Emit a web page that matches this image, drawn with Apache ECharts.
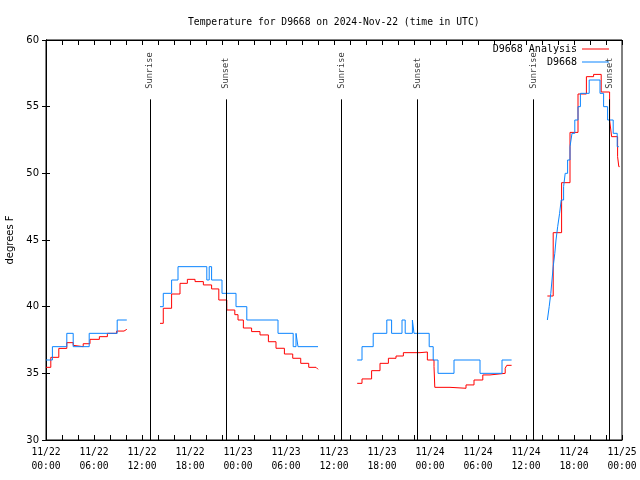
<!DOCTYPE html>
<html><head><meta charset="utf-8">
<script src="https://cdn.jsdelivr.net/npm/echarts@6/dist/echarts.min.js"></script>
<style>html,body{margin:0;padding:0;background:#fff}#c{width:640px;height:480px}</style>
</head><body><div id="c"></div>
<script>
const titleText = 'Temperature for D9668 on 2024-Nov-22 (time in UTC)';
const seriesNames = ['D9668 Analysis', 'D9668'];
const startDay = 22;           // 11/22 00:00 = hour 0
const yTickValues = [30, 35, 40, 45, 50, 55, 60];
const sunriseHours = [12.97, 36.95, 60.95];
const sunsetHours = [22.47, 46.42, 70.42];

// Analysis (red), [hour since 11/22 00:00 UTC, degF]
const analysisSeg1 = [[0,35.45],[0.6,36.2],[1.6,36.87],[2.6,37.3],[3.4,37.1],[3.6,37.0],[4.65,37.22],[5.5,37.55],[6.67,37.75],[7.67,38.0],[8.83,38.17],[9.75,38.3],[10.1,38.3]];
const analysisSeg2 = [[14.25,38.75],[14.66,39.88],[15.7,40.95],[16.75,41.75],[17.67,42.05],[18.63,41.88],[19.67,41.63],[20.7,41.33],[21.6,40.5],[22.6,39.75],[23.6,39.4],[24.0,39.0],[24.67,38.4],[25.7,38.13],[26.75,37.88],[27.8,37.37],[28.75,36.88],[29.8,36.45],[30.84,36.13],[31.84,35.75],[32.84,35.45],[33.75,35.3],[34.0,35.3]];
const analysisSeg3 = [[38.9,34.25],[39.5,34.58],[40.7,35.2],[41.75,35.75],[42.8,36.13],[43.75,36.3],[44.67,36.55],[46.75,36.6],[47.67,36.0],[48.5,35.5],[48.6,33.95],[50.5,33.88],[52.5,34.13],[53.5,34.5],[54.6,34.88],[55.5,35.0],[57.4,35.38],[57.6,35.6],[58.2,35.6]];
const analysisSeg4 = [[62.67,40.8],[63.4,45.55],[64.45,49.3],[65.5,53.07],[66.5,55.95],[67.55,57.25],[68.45,57.42],[69.4,56.1],[70.45,54.0],[70.7,52.75],[71.45,51.25],[71.6,50.5],[71.7,50.5]];

// Station observations (blue)
const obsSeg1 = [[0,36],[0.8,37],[2.6,38],[3.4,37],[5.4,38],[8.9,39],[10.1,39]];
const obsSeg2 = [[14.25,40],[14.66,41],[15.7,42],[16.5,43],[20.1,42],[20.4,43],[20.7,42],[22.0,41],[23.75,40],[25.1,39],[29.0,38],[30.9,37],[31.25,38],[31.5,37],[34.0,37]];
const obsSeg3 = [[38.9,36],[39.5,37],[40.9,38],[42.6,39],[43.2,38],[44.5,39],[44.9,38],[45.8,39],[46.0,38],[47.9,37],[48.4,36],[49.0,35],[51.0,36],[54.25,35],[57.0,36],[58.2,36]];
const obsSeg4 = [[62.67,39],[62.9,40],[63.1,41],[63.25,42],[63.4,43],[63.6,44],[63.75,45],[63.96,46],[64.2,47],[64.4,48],[64.7,49],[64.9,50],[65.2,51],[65.5,52],[65.75,53],[66.1,54],[66.5,55],[66.8,56],[67.9,57],[69.25,56],[69.7,55],[70.2,54],[70.9,53],[71.4,52],[71.6,52]];

function joinSegments(segs) {
  const out = [];
  segs.forEach((s, i) => {
    if (i > 0) out.push([out[out.length - 1][0], '-']);
    s.forEach(p => out.push(p));
  });
  return out;
}
const analysisData = joinSegments([analysisSeg1, analysisSeg2, analysisSeg3, analysisSeg4]);
const obsData = joinSegments([obsSeg1, obsSeg2, obsSeg3, obsSeg4]);

const sunLabelPoints = [];
const sunLines = [];
sunriseHours.forEach(t => { sunLabelPoints.push({name: 'Sunrise', value: [t, 56.35]}); sunLines.push([{coord: [t, 55.55]}, {coord: [t, 30]}]); });
sunsetHours.forEach(t => { sunLabelPoints.push({name: 'Sunset', value: [t, 56.35]}); sunLines.push([{coord: [t, 55.55]}, {coord: [t, 30]}]); });

const mono = 'DejaVu Sans Mono';
const pad = n => (n < 10 ? '0' : '') + n;
const chart = echarts.init(document.getElementById('c'), null, {renderer: 'canvas'});
const tickStyle = {color: '#000', width: 1};
const legendCommon = {right: 31, padding: 0, align: 'right', icon: 'rect', itemWidth: 27, itemHeight: 1, itemGap: 0,
  textStyle: {fontFamily: mono, fontSize: 10, color: '#000', padding: [0, 0, 0, 0]}};
chart.setOption({
  animation: false,
  backgroundColor: '#fff',
  title: {text: titleText, left: 183, top: 12, textStyle: {fontFamily: mono, fontSize: 9.7, fontWeight: 'normal', color: '#000'}},
  legend: [
    Object.assign({data: [seriesNames[0]], top: 44}, legendCommon),
    Object.assign({data: [seriesNames[1]], top: 57}, legendCommon)
  ],
  grid: {left: 46, right: 18, top: 40, bottom: 40, show: true, borderColor: '#000', borderWidth: 1,
    backgroundColor: 'transparent', containLabel: false, outerBoundsMode: 'none'},
  xAxis: [
    {type: 'value', min: 0, max: 72, interval: 6, position: 'bottom',
     axisLine: {show: true, lineStyle: tickStyle},
     axisTick: {show: true, inside: true, length: 5, lineStyle: tickStyle},
     minorTick: {show: true, splitNumber: 3, length: 5, lineStyle: tickStyle},
     splitLine: {show: false},
     axisLabel: {margin: 5, fontFamily: mono, fontSize: 9.7, color: '#000', lineHeight: 14,
       formatter: v => { const d = startDay + Math.floor(v / 24); const h = v % 24; return '11/' + d + '\n' + pad(h) + ':00'; }}},
    {type: 'value', min: 0, max: 72, interval: 6, position: 'top',
     axisLine: {show: true, lineStyle: tickStyle},
     axisTick: {show: true, inside: true, length: 5, lineStyle: tickStyle},
     minorTick: {show: true, splitNumber: 3, length: 5, lineStyle: tickStyle},
     splitLine: {show: false}, axisLabel: {show: false}}
  ],
  yAxis: [
    {type: 'value', min: yTickValues[0], max: yTickValues[yTickValues.length - 1], interval: 5, position: 'left',
     name: 'degrees F', nameLocation: 'middle', nameGap: 31, nameRotate: 90,
     nameTextStyle: {fontFamily: 'DejaVu Sans', fontSize: 10, color: '#000'},
     axisLine: {show: true, lineStyle: tickStyle},
     axisTick: {show: true, inside: true, length: 4, lineStyle: tickStyle},
     splitLine: {show: false},
     axisLabel: {margin: 7, fontFamily: 'DejaVu Sans', fontSize: 10, color: '#000'}},
    {type: 'value', min: yTickValues[0], max: yTickValues[yTickValues.length - 1], interval: 5, position: 'right',
     axisLine: {show: true, lineStyle: tickStyle},
     axisTick: {show: true, inside: true, length: 4, lineStyle: tickStyle},
     splitLine: {show: false}, axisLabel: {show: false}}
  ],
  series: [
    {name: seriesNames[0], type: 'line', step: 'end', symbol: 'none', data: analysisData,
     lineStyle: {color: '#ff0000', width: 1}, itemStyle: {color: '#ff0000'}, connectNulls: false},
    {name: seriesNames[1], type: 'line', step: 'end', symbol: 'none', data: obsData,
     lineStyle: {color: '#0a84ff', width: 1}, itemStyle: {color: '#0a84ff'}, connectNulls: false},
    {name: 'sun', type: 'scatter', symbolSize: 0, data: sunLabelPoints, silent: true,
     label: {show: true, formatter: p => p.name, rotate: 90, position: 'inside', align: 'left', verticalAlign: 'middle',
       fontFamily: mono, fontSize: 8.6, color: '#000'},
     markLine: {silent: true, symbol: ['none', 'none'], label: {show: false},
       lineStyle: {color: '#000', width: 1, type: 'solid'}, data: sunLines}}
  ]
});
</script></body></html>
